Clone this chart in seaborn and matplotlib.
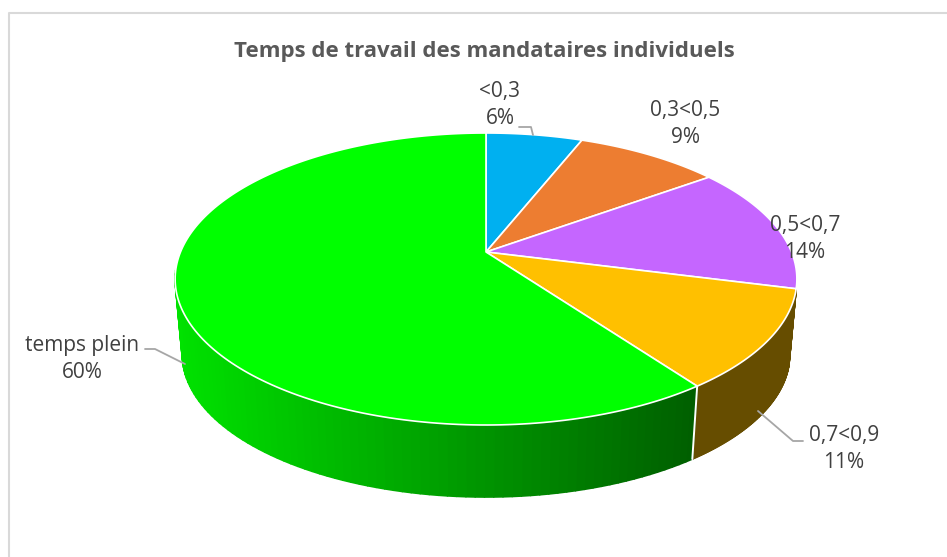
import numpy as np
import matplotlib
matplotlib.use("Agg")
import matplotlib.pyplot as plt
from matplotlib.collections import PolyCollection
import seaborn as sns

# ---- data ----
categories = ["<0,3", "0,3<0,5", "0,5<0,7", "0,7<0,9", "temps plein"]
shares = [6, 9, 14, 11, 60]
colors = ["#00B0F0", "#ED7D31", "#C566FF", "#FFC000", "#00FF00"]
title = "Temps de travail des mandataires individuels"
label_centers = [(500, 105), (685, 124), (805, 239), (844, 449), (82, 359)]
leaders = [
    [(519, 127), (531, 127), (533, 135)],
    None,
    None,
    [(758, 411), (793, 441), (803, 441)],
    [(145, 349), (155, 349), (185, 364)],
]

sns.set_theme(style="white")
plt.rcParams["font.family"] = ["Open Sans", "DejaVu Sans"]
palette = sns.color_palette(colors)

W, H = 947, 557
fig = plt.figure(figsize=(W / 100, H / 100), dpi=100, facecolor="white")
ax = fig.add_axes([0, 0, 1, 1])
ax.set_xlim(0, W)
ax.set_ylim(H, 0)
ax.axis("off")

# perspective projection of the unit disc
K = 0.185
CX = 486


def project(theta, r=1.0, level=0):
    """theta clockwise from 12 o'clock, level 0 = top face, 1 = bottom rim."""
    u = r * np.sin(theta)
    v = r * np.cos(theta)
    d = 1 + K * v
    scale = 0.977 if level else 1.0
    cy = 328 if level else 252
    return CX + scale * 305.5 * u / d, cy - scale * 141 * v / d


def side_color(base, x, shaded):
    r, g, b = base
    if shaded:
        f = np.clip((225 - (x - 185) / 505 * 130) / 255, 0.3, 1)
    else:
        f = 0.40
    return (r * f, g * f, b * f)


edges = np.cumsum([0] + shares) / sum(shares) * 2 * np.pi

# side walls (only the front facing part is visible)
for i in [3, 4]:
    a, b = edges[i], edges[i + 1]
    th = np.linspace(a, b, 150)
    th = th[np.cos(th) < -0.12]
    polys, cols = [], []
    for t0, t1 in zip(th[:-1], th[1:]):
        x0, y0 = project(t0)
        x1, y1 = project(t1)
        x2, y2 = project(t1, level=1)
        x3, y3 = project(t0, level=1)
        polys.append([(x0, y0), (x1, y1), (x2, y2), (x3, y3)])
        cols.append(side_color(palette[i], (x2 + x3) / 2, i == 4))
    ax.add_collection(PolyCollection(polys, facecolors=cols, edgecolors=cols, linewidths=1.2))

# white seam between the two visible walls
xs, ys = zip(project(edges[4]), project(edges[4], level=1))
ax.plot(xs, ys, color="white", lw=1.4, zorder=3)

# top faces
for i in range(len(shares)):
    th = np.linspace(edges[i], edges[i + 1], 200)
    x, y = project(th)
    ax.fill(np.r_[CX, x], np.r_[252, y], facecolor=palette[i], edgecolor="white", lw=1.2,
            joinstyle="round", zorder=4)

# labels
for name, share, (lx, ly), lead in zip(categories, shares, label_centers, leaders):
    ax.text(lx, ly, f"{name}\n{share}%", ha="center", va="center", fontsize=15,
            color="#404040", linespacing=1.38, zorder=6)
    if lead:
        ax.plot(*zip(*lead), color="#A6A6A6", lw=1.3, zorder=5)

ax.text(484, 51, title, ha="center", va="center", fontsize=16, fontweight="bold",
        color="#595959")

# chart frame
ax.plot([W, 9, 9], [13, 13, H], color="#D9D9D9", lw=1.5, clip_on=False)

fig.savefig("out.png", dpi=100)
